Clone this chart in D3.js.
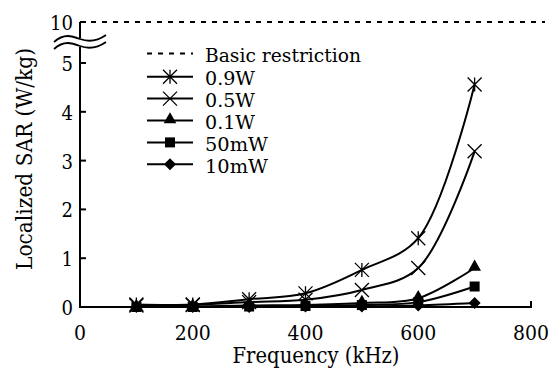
<!DOCTYPE html>
<html><head><meta charset="utf-8">
<script src="https://cdn.jsdelivr.net/npm/d3@7"></script>
<style>body{margin:0;background:#fff}svg{display:block}text{font-family:"DejaVu Serif","Noto Serif",serif;fill:#000}</style>
</head><body><div id="c"></div>
<script>
const freqs = [100, 200, 300, 400, 500, 600, 700];
const seriesNames = ["0.9W", "0.5W", "0.1W", "50mW", "10mW"];
const sar09 = [0.05, 0.05, 0.16, 0.28, 0.76, 1.41, 4.56];
const sar05 = [0.03, 0.04, 0.10, 0.15, 0.35, 0.80, 3.19];
const sar01 = [0.00, 0.01, 0.03, 0.04, 0.08, 0.18, 0.80];
const sar50m = [0.00, 0.00, 0.01, 0.02, 0.04, 0.10, 0.42];
const sar10m = [0.00, 0.00, 0.00, 0.01, 0.01, 0.03, 0.08];
const basicRestriction = 10;
const xTicks = [0, 200, 400, 600, 800];
const yTicks = [0, 1, 2, 3, 4, 5, 10];
const markers = ["asterisk", "cross", "triangle", "square", "diamond"];
const values = [sar09, sar05, sar01, sar50m, sar10m];

const W = 554, H = 373;
const svg = d3.select("#c").append("svg").attr("width", W).attr("height", H);
const x = d3.scaleLinear().domain([0, 800]).range([80, 531]);
const y = d3.scaleLinear().domain([0, 5, 10]).range([307, 63, 22]);

function fitText(sel, width) {
  return sel.attr("textLength", width).attr("lengthAdjust", "spacingAndGlyphs");
}

const g = svg.append("g");
const breakY = 42;
g.append("line").attr("x1", 80).attr("x2", 80).attr("y1", y(0)).attr("y2", breakY + 4).attr("stroke", "#000").attr("stroke-width", 2);
g.append("line").attr("x1", 80).attr("x2", 80).attr("y1", breakY - 4).attr("y2", y(10)).attr("stroke", "#000").attr("stroke-width", 2);
const wave = (yy) => `M54,${yy+3} C64,${yy-6} 72,${yy-3} 80,${yy} S96,${yy+3} 106,${yy-4}`;
g.append("path").attr("d", `M54,${breakY-3} L106,${breakY-3} L106,${breakY+5} L54,${breakY+5}Z`).attr("fill", "#fff");
g.append("path").attr("d", wave(breakY - 3)).attr("fill", "none").attr("stroke", "#000").attr("stroke-width", 1.8);
g.append("path").attr("d", wave(breakY + 4)).attr("fill", "none").attr("stroke", "#000").attr("stroke-width", 1.8);
yTicks.forEach(t => {
  g.append("line").attr("x1", 80).attr("x2", 86).attr("y1", y(t)).attr("y2", y(t)).attr("stroke", "#000").attr("stroke-width", 2);
  fitText(g.append("text").attr("x", 73).attr("y", y(t) + 8).attr("text-anchor", "end").attr("font-size", 21).text(t), 11.5 * String(t).length);
});
g.append("line").attr("x1", 79).attr("x2", x(800) + 1).attr("y1", y(0)).attr("y2", y(0)).attr("stroke", "#000").attr("stroke-width", 2);
xTicks.forEach(t => {
  g.append("line").attr("x1", x(t)).attr("x2", x(t)).attr("y1", y(0)).attr("y2", y(0) - 6).attr("stroke", "#000").attr("stroke-width", 2);
  fitText(g.append("text").attr("x", x(t)).attr("y", 340).attr("text-anchor", "middle").attr("font-size", 21).text(t), 12 * String(t).length);
});
fitText(svg.append("text").attr("x", 316).attr("y", 363).attr("text-anchor", "middle").attr("font-size", 22).text("Frequency (kHz)"), 167);
fitText(svg.append("text").attr("transform", "translate(32,159) rotate(-90)").attr("text-anchor", "middle").attr("font-size", 22).text("Localized SAR (W/kg)"), 222);

svg.append("line").attr("x1", x(0)).attr("x2", 545).attr("y1", y(basicRestriction)).attr("y2", y(basicRestriction))
  .attr("stroke", "#000").attr("stroke-width", 2).attr("stroke-dasharray", "5,6");

function drawMarker(sel, type, cx, cy) {
  const s = sel.append("g").attr("transform", `translate(${cx},${cy})`);
  if (type === "asterisk") {
    s.append("path").attr("d", "M-7,-7L7,7M-7,7L7,-7M0,-7L0,7").attr("stroke", "#000").attr("stroke-width", 1.3).attr("fill", "none");
  } else if (type === "cross") {
    s.append("path").attr("d", "M-7,-7L7,7M-7,7L7,-7").attr("stroke", "#000").attr("stroke-width", 1.3).attr("fill", "none");
  } else if (type === "triangle") {
    s.append("path").attr("d", d3.symbol(d3.symbolTriangle, 70)()).attr("transform", "translate(0,-1)");
  } else if (type === "square") {
    s.append("rect").attr("x", -5).attr("y", -5).attr("width", 10).attr("height", 10);
  } else if (type === "diamond") {
    s.append("path").attr("d", "M0,-6L6,0L0,6L-6,0Z");
  }
}

const line = d3.line().x((d, i) => x(freqs[i])).y(d => y(d)).curve(d3.curveCatmullRom.alpha(0.5));
values.forEach(vals => {
  svg.append("path").attr("d", line(vals)).attr("fill", "none").attr("stroke", "#000").attr("stroke-width", 2);
});
values.forEach((vals, k) => {
  vals.forEach((v, i) => drawMarker(svg, markers[k], x(freqs[i]), y(v)));
});

const lg = svg.append("g");
const lx1 = 147, lx2 = 193, ly0 = 53.5, ly1 = 76.7, dy = 21.9;
const legWidths = [50, 50, 50, 63, 63];
lg.append("line").attr("x1", lx1).attr("x2", lx2).attr("y1", ly0).attr("y2", ly0).attr("stroke", "#000").attr("stroke-width", 2).attr("stroke-dasharray", "5,6");
fitText(lg.append("text").attr("x", 205).attr("y", ly0 + 8.5).attr("font-size", 18.8).text("Basic restriction"), 156);
seriesNames.forEach((n, k) => {
  const yy = ly1 + dy * k;
  lg.append("line").attr("x1", lx1).attr("x2", lx2).attr("y1", yy).attr("y2", yy).attr("stroke", "#000").attr("stroke-width", 2);
  drawMarker(lg, markers[k], 170, yy);
  fitText(lg.append("text").attr("x", 205).attr("y", yy + 8.5).attr("font-size", 18.8).text(n), legWidths[k]);
});
</script></body></html>
